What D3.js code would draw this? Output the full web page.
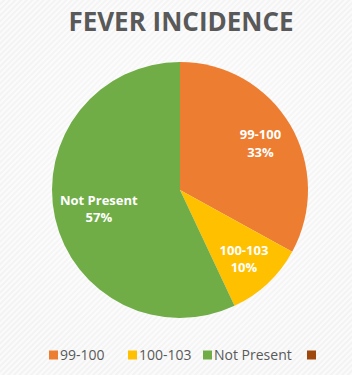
<!DOCTYPE html>
<html>
<head>
<meta charset="utf-8">
<script src="https://cdn.jsdelivr.net/npm/d3@7"></script>
<style>
  html, body { margin: 0; padding: 0; background: #fff; }
  svg { display: block; }
</style>
</head>
<body>
<svg id="chart"></svg>
<script>
const categories = ['99-100', '100-103', 'Not Present', ''];
const values = [33, 10, 57, 0];
const percentLabels = ['33%', '10%', '57%', ''];
const colors = ['#ED7D31', '#FFC000', '#70AD47', '#9E480E'];

(function () {
    const width = 352;
    const height = 375;
    const cx = 180;
    const cy = 190;
    const radius = 128;

    const svg = d3.select('#chart')
        .attr('width', width)
        .attr('height', height);

    // striped background
    const defs = svg.append('defs');
    const pat = defs.append('pattern')
        .attr('id', 'stripes')
        .attr('width', 4)
        .attr('height', 4)
        .attr('patternUnits', 'userSpaceOnUse')
        .attr('patternTransform', 'rotate(45)');
    pat.append('rect').attr('width', 4).attr('height', 4).attr('fill', '#f3f3f3');
    pat.append('rect').attr('width', 2).attr('height', 4).attr('fill', '#fbfbfb');

    const glow = defs.append('radialGradient')
        .attr('id', 'glow')
        .attr('cx', '50%').attr('cy', '45%').attr('r', '60%');
    glow.append('stop').attr('offset', '0%').attr('stop-color', '#fff').attr('stop-opacity', 0.6);
    glow.append('stop').attr('offset', '100%').attr('stop-color', '#fff').attr('stop-opacity', 0);

    svg.append('rect')
        .attr('width', width)
        .attr('height', height)
        .attr('fill', 'url(#stripes)');
    svg.append('rect')
        .attr('width', width)
        .attr('height', height)
        .attr('fill', 'url(#glow)');

    svg.append('text')
        .attr('x', 181)
        .attr('y', 31)
        .attr('text-anchor', 'middle')
        .attr('font-family', 'Open Sans, sans-serif')
        .attr('font-weight', 'bold')
        .attr('font-size', 26)
        .attr('fill', '#595959')
        .text('FEVER INCIDENCE');

    const pie = d3.pie().sort(null).value(d => d);
    const arcs = pie(values);
    const arc = d3.arc().innerRadius(0).outerRadius(radius);
    // big slice label sits a bit closer to the centre, like Excel's best fit
    const labelPos = d => {
        const r = d.index === 2 ? radius * 0.65 : radius * 0.73;
        return d3.arc().innerRadius(r).outerRadius(r).centroid(d);
    };

    const g = svg.append('g').attr('transform', `translate(${cx},${cy})`);

    g.selectAll('path.slice')
        .data(arcs)
        .join('path')
        .attr('class', 'slice')
        .attr('d', arc)
        .attr('fill', (d, i) => colors[i])
        .attr('stroke', 'none');

    const labels = g.selectAll('text.lbl')
        .data(arcs.filter(d => d.data > 0))
        .join('text')
        .attr('class', 'lbl')
        .attr('transform', d => `translate(${labelPos(d)})`)
        .attr('text-anchor', 'middle')
        .attr('font-family', 'Open Sans, sans-serif')
        .attr('font-weight', 'bold')
        .attr('font-size', 13)
        .attr('fill', '#fff');
    labels.append('tspan')
        .attr('x', 0)
        .attr('dy', '-0.25em')
        .text(d => categories[d.index]);
    labels.append('tspan')
        .attr('x', 0)
        .attr('dy', '1.35em')
        .text(d => percentLabels[d.index]);

    // legend
    const legendX = [49, 128, 203, 307];
    const legend = svg.append('g');
    const items = legend.selectAll('g')
        .data(categories)
        .join('g')
        .attr('transform', (d, i) => `translate(${legendX[i]},355)`);
    items.append('rect')
        .attr('x', 0)
        .attr('y', -4.5)
        .attr('width', 9)
        .attr('height', 9)
        .attr('fill', (d, i) => colors[i]);
    items.append('text')
        .attr('x', 11)
        .attr('y', 5)
        .attr('font-family', 'Open Sans, sans-serif')
        .attr('font-size', 14)
        .attr('fill', '#595959')
        .text(d => d);
})();
</script>
</body>
</html>
